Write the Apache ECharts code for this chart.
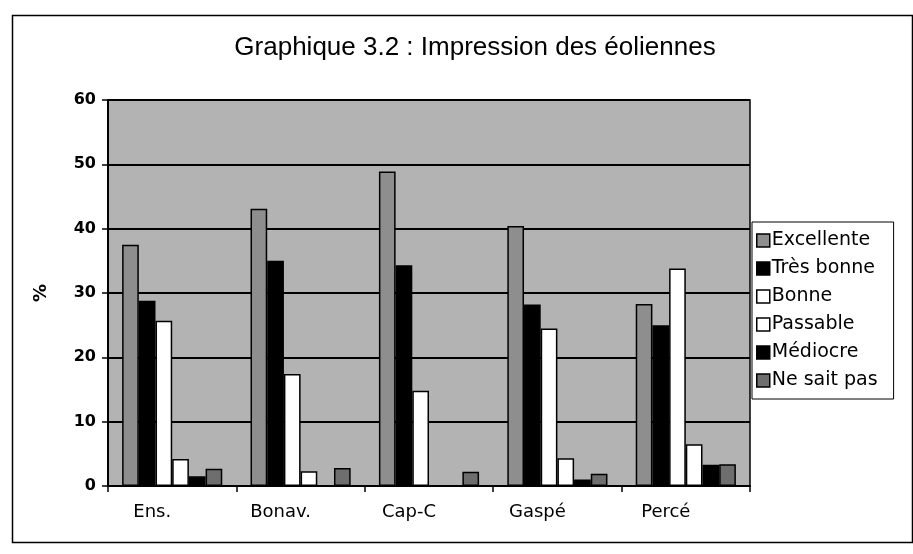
<!DOCTYPE html>
<html>
<head>
<meta charset="utf-8">
<script src="https://cdn.jsdelivr.net/npm/echarts@6/dist/echarts.min.js"></script>
<style>
html,body{margin:0;padding:0;background:#fff;}
#c{width:913px;height:554px;}
</style>
</head>
<body>
<div id="c"></div>
<script>
var categories = ['Ens.', 'Bonav.', 'Cap-C', 'Gaspé', 'Percé'];
var seriesNames = ['Excellente', 'Très bonne', 'Bonne', 'Passable', 'Médiocre', 'Ne sait pas'];
var excellente = [37.5, 43.1, 48.9, 40.4, 28.3];
var tresBonne  = [28.8, 35.0, 34.3, 28.2, 25.0];
var bonne      = [25.7, 17.4, 14.8, 24.5, 33.8];
var passable   = [4.2, 2.3, 0, 4.3, 6.5];
var mediocre   = [1.5, 0, 0, 1.0, 3.3];
var neSaitPas  = [2.7, 2.8, 2.2, 1.9, 3.4];
var yTicks = [0, 10, 20, 30, 40, 50, 60];

var seriesData = [excellente, tresBonne, bonne, passable, mediocre, neSaitPas];
var seriesColors = ['#8e8e8e', '#000000', '#ffffff', '#ffffff', '#000000', '#6e6e6e'];

var chart = echarts.init(document.getElementById('c'), null, {renderer: 'canvas'});
var series = seriesNames.map(function (n, i) {
  return {
    name: n,
    type: 'bar',
    data: seriesData[i],
    barGap: '0%',
    barCategoryGap: '22%',
    itemStyle: {color: seriesColors[i], borderColor: '#000', borderWidth: 1.5},
    emphasis: {disabled: true}
  };
});

chart.setOption({
  animation: false,
  backgroundColor: '#ffffff',
  title: {
    text: 'Graphique 3.2 : Impression des éoliennes',
    left: 470, top: 30, textAlign: 'center',
    textStyle: {fontFamily: 'Liberation Sans', fontSize: 26, fontWeight: 'normal', color: '#000'}
  },
  graphic: [{
    type: 'rect', left: 10, top: 13, shape: {width: 900, height: 527},
    style: {fill: 'none', stroke: '#000', lineWidth: 1.5}, z: -1
  }],
  legend: {
    orient: 'vertical', left: 752, top: 222,
    itemWidth: 13, itemHeight: 13, itemGap: 9,
    padding: [9, 16, 9, 4],
    borderColor: '#000', borderWidth: 1,
    backgroundColor: '#fff',
    icon: 'rect',
    textStyle: {fontFamily: 'DejaVu Sans', fontSize: 19, color: '#000', padding: [0, 0, 0, -3]},
    data: seriesNames.map(function (n, i) { return {name: n, itemStyle: {borderColor: '#000', borderWidth: 1.5}}; })
  },
  grid: {
    left: 108, right: 163, top: 100, height: 386,
    show: true, backgroundColor: '#b3b3b3', borderColor: '#000', borderWidth: 1.5
  },
  xAxis: {
    type: 'category', data: categories,
    axisLine: {lineStyle: {color: '#000', width: 2}},
    axisTick: {show: true, length: 6, lineStyle: {color: '#000', width: 1.5}},
    axisLabel: {fontFamily: 'DejaVu Sans', fontSize: 18, color: '#000', margin: 17, padding: [0, 40, 0, 0]}
  },
  yAxis: {
    type: 'value', min: yTicks[0], max: yTicks[yTicks.length - 1], interval: 10,
    name: '%', nameLocation: 'middle', nameGap: 58, nameRotate: 90,
    nameTextStyle: {fontFamily: 'DejaVu Sans', fontSize: 18, fontWeight: 'bold', color: '#000'},
    axisLine: {show: true, lineStyle: {color: '#000', width: 2}},
    axisTick: {show: true, length: 6, lineStyle: {color: '#000', width: 1.5}},
    axisLabel: {fontFamily: 'DejaVu Sans', fontSize: 16, fontWeight: 'bold', color: '#000', margin: 12},
    splitLine: {show: true, lineStyle: {color: '#000', width: 2}}
  },
  series: series
});
</script>
</body>
</html>
